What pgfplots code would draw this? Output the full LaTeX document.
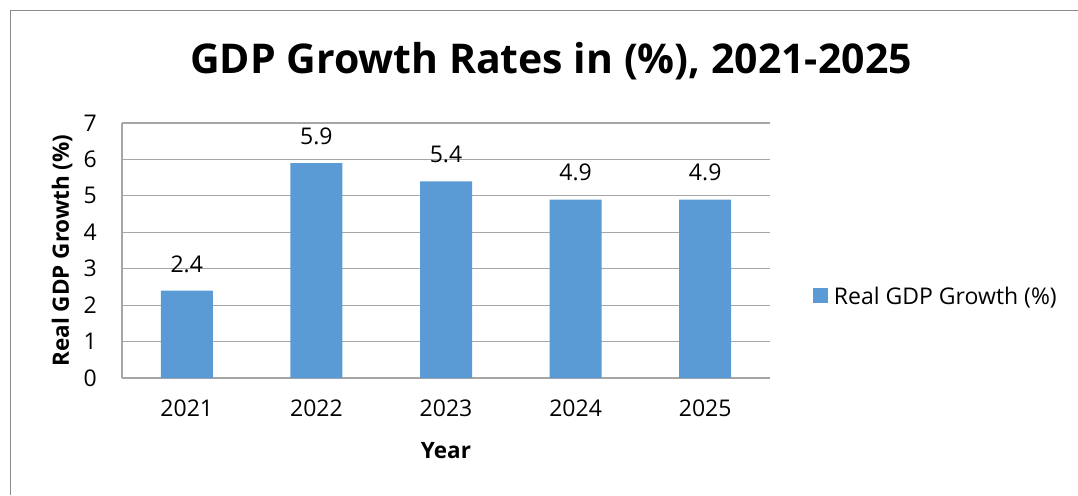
\documentclass[border=0pt]{standalone}
\usepackage{fontspec}
\setmainfont{Open Sans}
\usepackage{pgfplots}
\pgfplotsset{compat=1.18}
\definecolor{barblue}{HTML}{5B9BD5}
\definecolor{gridgray}{HTML}{A6A6A6}
\definecolor{framegray}{HTML}{8C8C8C}
\begin{document}
\begin{tikzpicture}[x=1pt,y=1pt]
\useasboundingbox (0,0) rectangle (1078,495);
\draw[framegray,line width=1.5pt] (10.5,0) -- (10.5,484.5) -- (1078,484.5);
\node[anchor=base,font=\fontsize{41}{49}\selectfont\bfseries] at (551,421) {GDP Growth Rates in (\%), 2021-2025};
\begin{axis}[
  at={(122pt,117pt)}, anchor=south west,
  width=648pt, height=255pt, scale only axis,
  xmin=-0.5, xmax=4.5, ymin=0, ymax=7,
  ytick={0,1,2,3,4,5,6,7},
  xtick={0,1,2,3,4}, xticklabels={2021,2022,2023,2024,2025},
  major tick length=0pt,
  axis lines*=left,
  axis line style={gridgray, line width=1.2pt},
  ymajorgrids, grid style={gridgray, line width=1.2pt},
  tick label style={font=\fontsize{23}{27}\selectfont, /pgf/number format/assume math mode=true},
  yticklabel style={anchor=east, inner sep=0pt, xshift=-25pt},
  xticklabel style={anchor=north, inner sep=0pt, yshift=-22pt},
  xlabel={Year}, ylabel={Real GDP Growth (\%)},
  label style={font=\fontsize{22.5}{27}\selectfont\bfseries},
  xlabel style={at={(axis description cs:0.5,-0.286)}, anchor=center},
  ylabel style={at={(axis description cs:-0.0926,0.5)}, anchor=center},
  ybar, bar width=52pt,
  nodes near coords,
  every node near coord/.append style={font=\fontsize{23}{27}\selectfont, anchor=south, inner sep=0pt, yshift=18pt, /pgf/number format/assume math mode=true, /pgf/number format/fixed, /pgf/number format/precision=1, /pgf/number format/fixed zerofill},
  legend style={draw=none, fill=none, at={(1.066,0.32)}, anchor=west, inner sep=0pt, font=\fontsize{23}{27}\selectfont},
  legend image code/.code={\fill[barblue] (0pt,-7pt) rectangle (15pt,8pt); \path (19pt,0pt);},
  clip=false,
]
\addplot[fill=barblue, draw=none] coordinates {(0,2.4) (1,5.9) (2,5.4) (3,4.9) (4,4.9)};
\addlegendentry{Real GDP Growth (\%)}
\end{axis}
\end{tikzpicture}
\end{document}
